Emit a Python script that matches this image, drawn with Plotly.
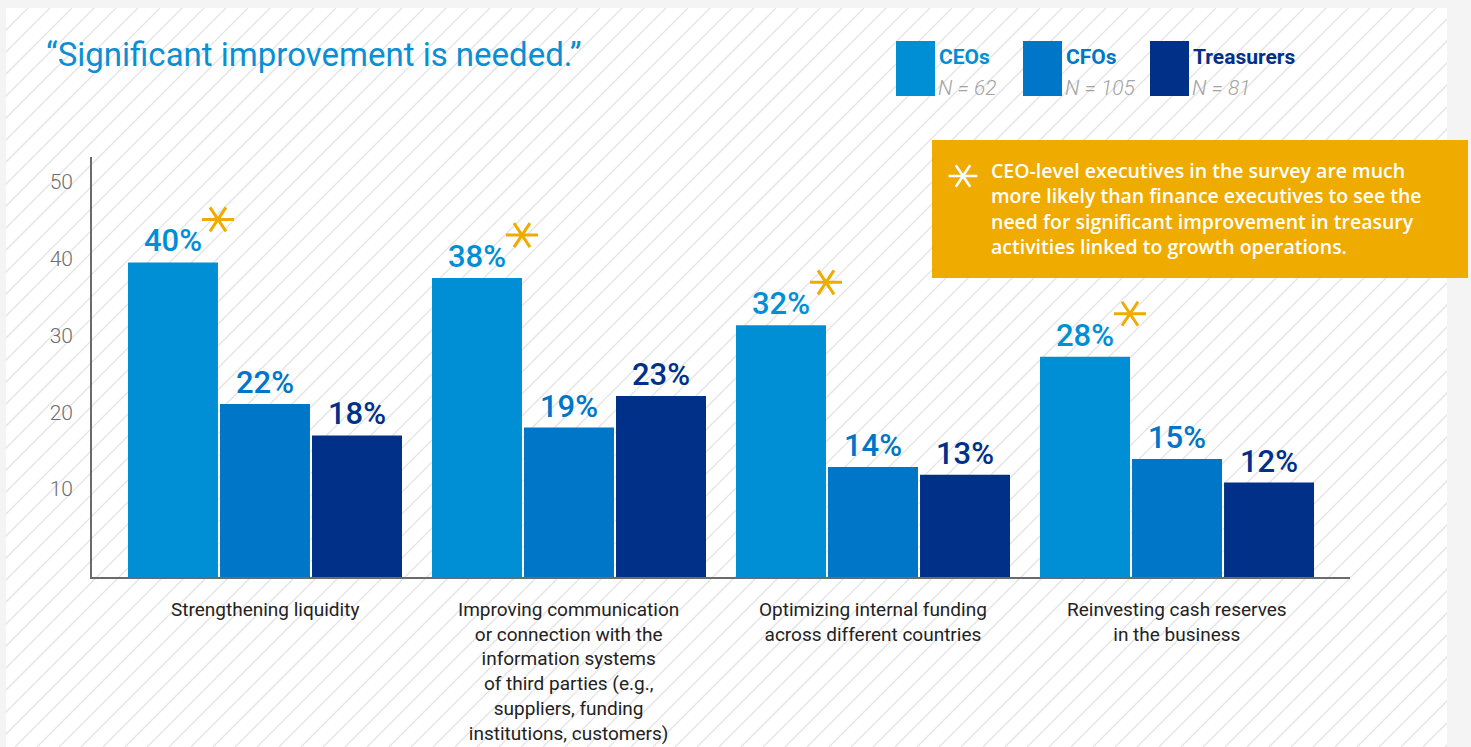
import base64
import plotly.graph_objects as go

# ---- data -------------------------------------------------------------
categories = [
    "Strengthening liquidity",
    "Improving communication<br>or connection with the<br>information systems<br>of third parties (e.g.,<br>suppliers, funding<br>institutions, customers)",
    "Optimizing internal funding<br>across different countries",
    "Reinvesting cash reserves<br>in the business",
]
series_names = ["CEOs", "CFOs", "Treasurers"]
series_n = ["N = 62", "N = 105", "N = 81"]
ceos = [40, 38, 32, 28]
cfos = [22, 19, 14, 15]
treasurers = [18, 23, 13, 12]
significant = [True, True, True, True]   # CEO value significantly higher
y_ticks = [10, 20, 30, 40, 50]
note_lines = [
    "CEO-level executives in the survey are much",
    "more likely than finance executives to see the",
    "need for significant improvement in treasury",
    "activities linked to growth operations.",
]
title_text = "\u201cSignificant improvement is needed.\u201d"

# ---- style ------------------------------------------------------------
colors = ["#008fd5", "#0076c8", "#003087"]
orange = "#f0ab00"
axis_grey = "#6b6b6b"
sans = "Roboto, Open Sans, sans-serif"
wide = "Open Sans, Roboto, sans-serif"

W, H = 1471, 747
L, R, T, B = 92, 1350, 157, 577          # plot area in pixels
Y_MAX = 53.4
X_MIN, X_MAX = -0.569, 3.569
BARGAP, GROUPGAP = 0.092, 0.022


def px_x(px):
    return (px - L) / (R - L)


def px_y(py):
    return (B - py) / (B - T)


def unit_x(px):
    return px * (X_MAX - X_MIN) / (R - L)


def unit_y(py):
    return py * Y_MAX / (B - T)


# diagonal hatching for the white panel
pan_x0, pan_y0, pan_x1, pan_y1 = 6, 8, 1447, 747
pw, ph = pan_x1 - pan_x0, pan_y1 - pan_y0
lines = []
step = 22
x0 = -ph
while x0 < pw:
    lines.append(f'<line x1="{x0}" y1="{ph}" x2="{x0 + ph}" y2="0"/>')
    x0 += step
svg = (
    f'<svg xmlns="http://www.w3.org/2000/svg" width="{pw}" height="{ph}" '
    f'viewBox="0 0 {pw} {ph}"><rect width="{pw}" height="{ph}" fill="#ffffff"/>'
    f'<g stroke="#e4e4e4" stroke-width="1.3">{"".join(lines)}</g></svg>'
)
hatch_src = "data:image/svg+xml;base64," + base64.b64encode(svg.encode()).decode()

fig = go.Figure()

xs = list(range(len(categories)))
for name, vals, col in zip(series_names, [ceos, cfos, treasurers], colors):
    fig.add_trace(go.Bar(
        x=xs, y=vals, name=name, marker=dict(color=col, line=dict(width=0)),
        text=[f"{v}%" for v in vals], textposition="outside",
        textfont=dict(family=sans, size=31, color=col, weight=500),
        cliponaxis=False, showlegend=False, hoverinfo="skip",
    ))

# asterisk at the top-right corner of each significant CEO bar
slot = (1 - BARGAP) / 3
ceo_right = -(1 - BARGAP) / 2 + slot * (1 - GROUPGAP / 2)
ast_x = [i + ceo_right for i, s in enumerate(significant) if s]
ast_y = [v + unit_y(43) for v, s in zip(ceos, significant) if s]
for sym in ["y-left", "y-right"]:
    fig.add_trace(go.Scatter(
        x=ast_x, y=ast_y, mode="markers", showlegend=False, hoverinfo="skip",
        cliponaxis=False,
        marker=dict(symbol=sym, size=20, color=orange,
                    line=dict(color=orange, width=3)),
    ))

# white asterisk inside the note box
note_ast_x = X_MIN + unit_x(963 - L)
note_ast_y = unit_y(B - 176)
for sym in ["y-left", "y-right"]:
    fig.add_trace(go.Scatter(
        x=[note_ast_x], y=[note_ast_y], mode="markers", showlegend=False,
        hoverinfo="skip", cliponaxis=False,
        marker=dict(symbol=sym, size=18, color="#ffffff",
                    line=dict(color="#ffffff", width=2.6)),
    ))

# empty trace that carries the tick-label axis
fig.add_trace(go.Scatter(x=[], y=[], yaxis="y2", showlegend=False))

shapes = []
annotations = []

# note box
shapes.append(dict(type="rect", xref="paper", yref="paper",
                   x0=px_x(932), x1=px_x(1468), y0=px_y(278), y1=px_y(140),
                   fillcolor=orange, line=dict(width=0), layer="below"))
annotations.append(dict(
    xref="paper", yref="paper", x=px_x(989), y=px_y(208),
    xanchor="left", yanchor="middle", text="<br>".join(note_lines),
    showarrow=False, align="left",
    font=dict(family=wide, size=19.5, color="#ffffff", weight=600),
))

# legend swatches and labels
legend_x = [896, 1023, 1150]
for lx, name, n, col in zip(legend_x, series_names, series_n, colors):
    shapes.append(dict(type="rect", xref="paper", yref="paper",
                       x0=px_x(lx), x1=px_x(lx + 39), y0=px_y(96), y1=px_y(41),
                       fillcolor=col, line=dict(width=0), layer="below"))
    annotations.append(dict(
        xref="paper", yref="paper", x=px_x(lx + 41), y=px_y(57),
        xanchor="left", yanchor="middle", text=name, showarrow=False,
        font=dict(family=sans, size=21, color=col, weight=700),
    ))
    annotations.append(dict(
        xref="paper", yref="paper", x=px_x(lx + 40), y=px_y(88),
        xanchor="left", yanchor="middle", text=n, showarrow=False,
        font=dict(family=sans, size=21, color="#a3a3a3", weight=300,
                  style="italic"),
    ))

# title
annotations.append(dict(
    xref="paper", yref="paper", x=px_x(44), y=px_y(55),
    xanchor="left", yanchor="middle", text=title_text, showarrow=False,
    font=dict(family=sans, size=33, color="#0a8fd4"),
))

# category labels under each group
for i, cat in enumerate(categories):
    annotations.append(dict(
        xref="x", yref="paper", x=i, y=px_y(596), xanchor="center",
        yanchor="top", text=cat, showarrow=False, align="center",
        font=dict(family=sans, size=19, color="#222222"),
    ))

# tick-label axis range: labels sit at 182 px (50) ... 489 px (10)
tick_unit = (489 - 182) / 40
tick_zero = 489 + 10 * tick_unit
y2_range = [(tick_zero - B) / tick_unit, (tick_zero - T) / tick_unit]

fig.update_layout(
    width=W, height=H, autosize=False,
    margin=dict(l=L, r=W - R, t=T, b=H - B, pad=0),
    paper_bgcolor="#f4f4f4", plot_bgcolor="rgba(0,0,0,0)",
    barmode="group", bargap=BARGAP, bargroupgap=GROUPGAP,
    xaxis=dict(range=[X_MIN, X_MAX], showgrid=False, zeroline=False,
               showticklabels=False, ticks="", showline=True,
               linecolor=axis_grey, linewidth=2.4, fixedrange=True),
    yaxis=dict(range=[0, Y_MAX], showgrid=False, zeroline=False,
               showticklabels=False, ticks="", showline=True,
               linecolor=axis_grey, linewidth=2.4, fixedrange=True),
    yaxis2=dict(overlaying="y", side="left", range=y2_range,
                tickvals=y_ticks, ticktext=[str(t) for t in y_ticks],
                showgrid=False, zeroline=False, showline=False, ticks="",
                ticklabelstandoff=18,
                tickfont=dict(family=sans, size=21, color="#6e6e6e", weight=300),
                fixedrange=True),
    images=[dict(source=hatch_src, xref="paper", yref="paper",
                 x=px_x(pan_x0), y=px_y(pan_y0),
                 sizex=pw / (R - L), sizey=ph / (B - T),
                 xanchor="left", yanchor="top", sizing="stretch",
                 layer="below")],
    shapes=shapes, annotations=annotations,
    font=dict(family=sans),
    showlegend=False,
)

fig.write_html("out.html", config={"displayModeBar": False})
